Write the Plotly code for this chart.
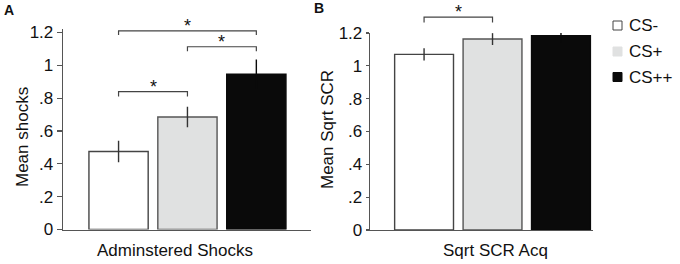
import plotly.graph_objects as go

# ---- data ----
conditions = ["CS-", "CS+", "CS++"]
shocks_mean = [0.475, 0.685, 0.945]
shocks_err = [0.065, 0.063, 0.09]
scr_mean = [1.07, 1.163, 1.183]
scr_err = [0.037, 0.036, 0.04]
ytick_vals = [0, 0.2, 0.4, 0.6, 0.8, 1.0, 1.2]
ytick_text = ["0", ".2", ".4", ".6", ".8", "1", "1.2"]
cat_a = "Adminstered Shocks"
cat_b = "Sqrt SCR Acq"
# significance brackets: (from index, to index, level, tip level)
sig_a = [(0, 1, 0.84, 0.81), (0, 2, 1.21, 1.185), (1, 2, 1.113, 1.086)]
sig_b = [(0, 1, 1.297, 1.264)]

# ---- style ----
FONT = "Liberation Sans, Arial, Helvetica, sans-serif"
fills = ["#ffffff", "#e0e1e1", "#0a0a0a"]
edges = ["#444444", "#555555", "#0a0a0a"]
err_colors = ["#333333", "#333333", "#0a0a0a"]
AX = "#555555"
BARGAP = 0.167
GROUPGAP = 0.14
W, H = 680, 264

def py(px):
    return 1 - px / H

def px_x(px):
    return px / W

dom_ya = [py(229.5), py(29)]
range_ya = [0, 1.221]
dom_yb = [py(230), py(33)]
range_yb = [0, 1.2]

fig = go.Figure()
for i, c in enumerate(conditions):
    for cat, vals, errs, xa, ya in [(cat_a, shocks_mean, shocks_err, "x", "y"),
                                    (cat_b, scr_mean, scr_err, "x2", "y2")]:
        fig.add_trace(go.Bar(
            x=[cat], y=[vals[i]], name=c, xaxis=xa, yaxis=ya, showlegend=False,
            marker=dict(color=fills[i], line=dict(color=edges[i], width=1.4)),
            error_y=dict(type="data", array=[errs[i]], color=err_colors[i], thickness=1.4, width=0),
            offsetgroup=str(i),
        ))

offsets = [(i - 1) * (1 - BARGAP) / 3 for i in range(3)]

shapes = []
annotations = []
star_font = dict(size=18, color="#111111", family=FONT)
for a, b, lvl, tip in sig_a:
    xa0, xa1 = offsets[a], offsets[b]
    shapes.append(dict(type="path", xref="x", yref="y",
                       path=f"M {xa0},{tip} L {xa0},{lvl} L {xa1},{lvl} L {xa1},{tip}",
                       line=dict(color="#444444", width=1.2)))
    annotations.append(dict(x=(xa0 + xa1) / 2, y=lvl, xref="x", yref="y", text="*",
                            showarrow=False, xanchor="center", yanchor="bottom", yshift=-7,
                            font=star_font))

def b_paper(v):
    return dom_yb[0] + (v - range_yb[0]) / (range_yb[1] - range_yb[0]) * (dom_yb[1] - dom_yb[0])

for a, b, lvl, tip in sig_b:
    xa0, xa1 = offsets[a], offsets[b]
    shapes.append(dict(type="path", xref="x2", yref="paper",
                       path=f"M {xa0},{b_paper(tip)} L {xa0},{b_paper(lvl)} L {xa1},{b_paper(lvl)} L {xa1},{b_paper(tip)}",
                       line=dict(color="#444444", width=1.2)))
    annotations.append(dict(x=(xa0 + xa1) / 2, y=b_paper(lvl), xref="x2", yref="paper", text="*",
                            showarrow=False, xanchor="center", yanchor="bottom", yshift=-7,
                            font=star_font))

# custom legend
leg_y = [25.5, 51.5, 77]
for i, c in enumerate(conditions):
    yc = leg_y[i]
    shapes.append(dict(type="rect", xref="paper", yref="paper",
                       x0=px_x(613), x1=px_x(622), y0=py(yc + 4.5), y1=py(yc - 4.5),
                       fillcolor=fills[i],
                       line=dict(color=("#444444" if i == 0 else fills[i]), width=1)))
    annotations.append(dict(x=px_x(627), y=py(yc), xref="paper", yref="paper", text=c,
                            showarrow=False, xanchor="left", yanchor="middle",
                            font=dict(size=17, color="#111111", family=FONT)))

# titles
tfont = dict(size=17, color="#111111", family=FONT)
annotations += [
    dict(x=px_x(22), y=py(137), xref="paper", yref="paper", text="Mean shocks", textangle=-90,
         showarrow=False, xanchor="center", yanchor="middle", font=tfont),
    dict(x=px_x(327), y=py(130), xref="paper", yref="paper", text="Mean Sqrt SCR", textangle=-90,
         showarrow=False, xanchor="center", yanchor="middle", font=tfont),
    dict(x=px_x(175), y=py(250), xref="paper", yref="paper", text=cat_a,
         showarrow=False, xanchor="center", yanchor="middle", font=tfont),
    dict(x=px_x(495), y=py(250), xref="paper", yref="paper", text=cat_b,
         showarrow=False, xanchor="center", yanchor="middle", font=tfont),
    dict(x=px_x(2), y=py(10), xref="paper", yref="paper", text="<b>A</b>",
         showarrow=False, xanchor="left", yanchor="middle",
         font=dict(size=14, color="#111111", family=FONT)),
    dict(x=px_x(312), y=py(8), xref="paper", yref="paper", text="<b>B</b>",
         showarrow=False, xanchor="left", yanchor="middle",
         font=dict(size=14, color="#111111", family=FONT)),
]

yax_common = dict(tickvals=ytick_vals, ticktext=ytick_text, showgrid=False, zeroline=False,
                  showline=True, linecolor=AX, linewidth=1.3, ticks="outside", tickcolor=AX,
                  tickwidth=1.2, automargin=False,
                  tickfont=dict(size=17, color="#111111", family=FONT))
xax_common = dict(showline=True, linecolor=AX, linewidth=1.3, showticklabels=False, ticks="",
                  showgrid=False, zeroline=False, type="category", automargin=False)

fig.update_layout(
    width=W, height=H, margin=dict(l=0, r=0, t=0, b=0, pad=0, autoexpand=False),
    paper_bgcolor="white", plot_bgcolor="white",
    barmode="group", bargap=BARGAP, bargroupgap=GROUPGAP,
    showlegend=False, hovermode=False,
    font=dict(family=FONT, color="#111111"),
    xaxis=dict(domain=[px_x(63), px_x(311)], range=[-0.5016, 0.498], anchor="y", **xax_common),
    yaxis=dict(domain=dom_ya, range=range_ya, anchor="x", ticklen=5, **yax_common),
    xaxis2=dict(domain=[px_x(370), px_x(593)], range=[-0.497, 0.4076], anchor="y2", **xax_common),
    yaxis2=dict(domain=dom_yb, range=range_yb, anchor="x2", ticklen=3, **yax_common),
    shapes=shapes, annotations=annotations,
)

fig.write_html(
    "out.html",
    config={"displayModeBar": False, "staticPlot": True},
    post_script="document.body.style.margin='0';document.body.style.padding='0';"
                "document.body.style.overflow='hidden';",
)
